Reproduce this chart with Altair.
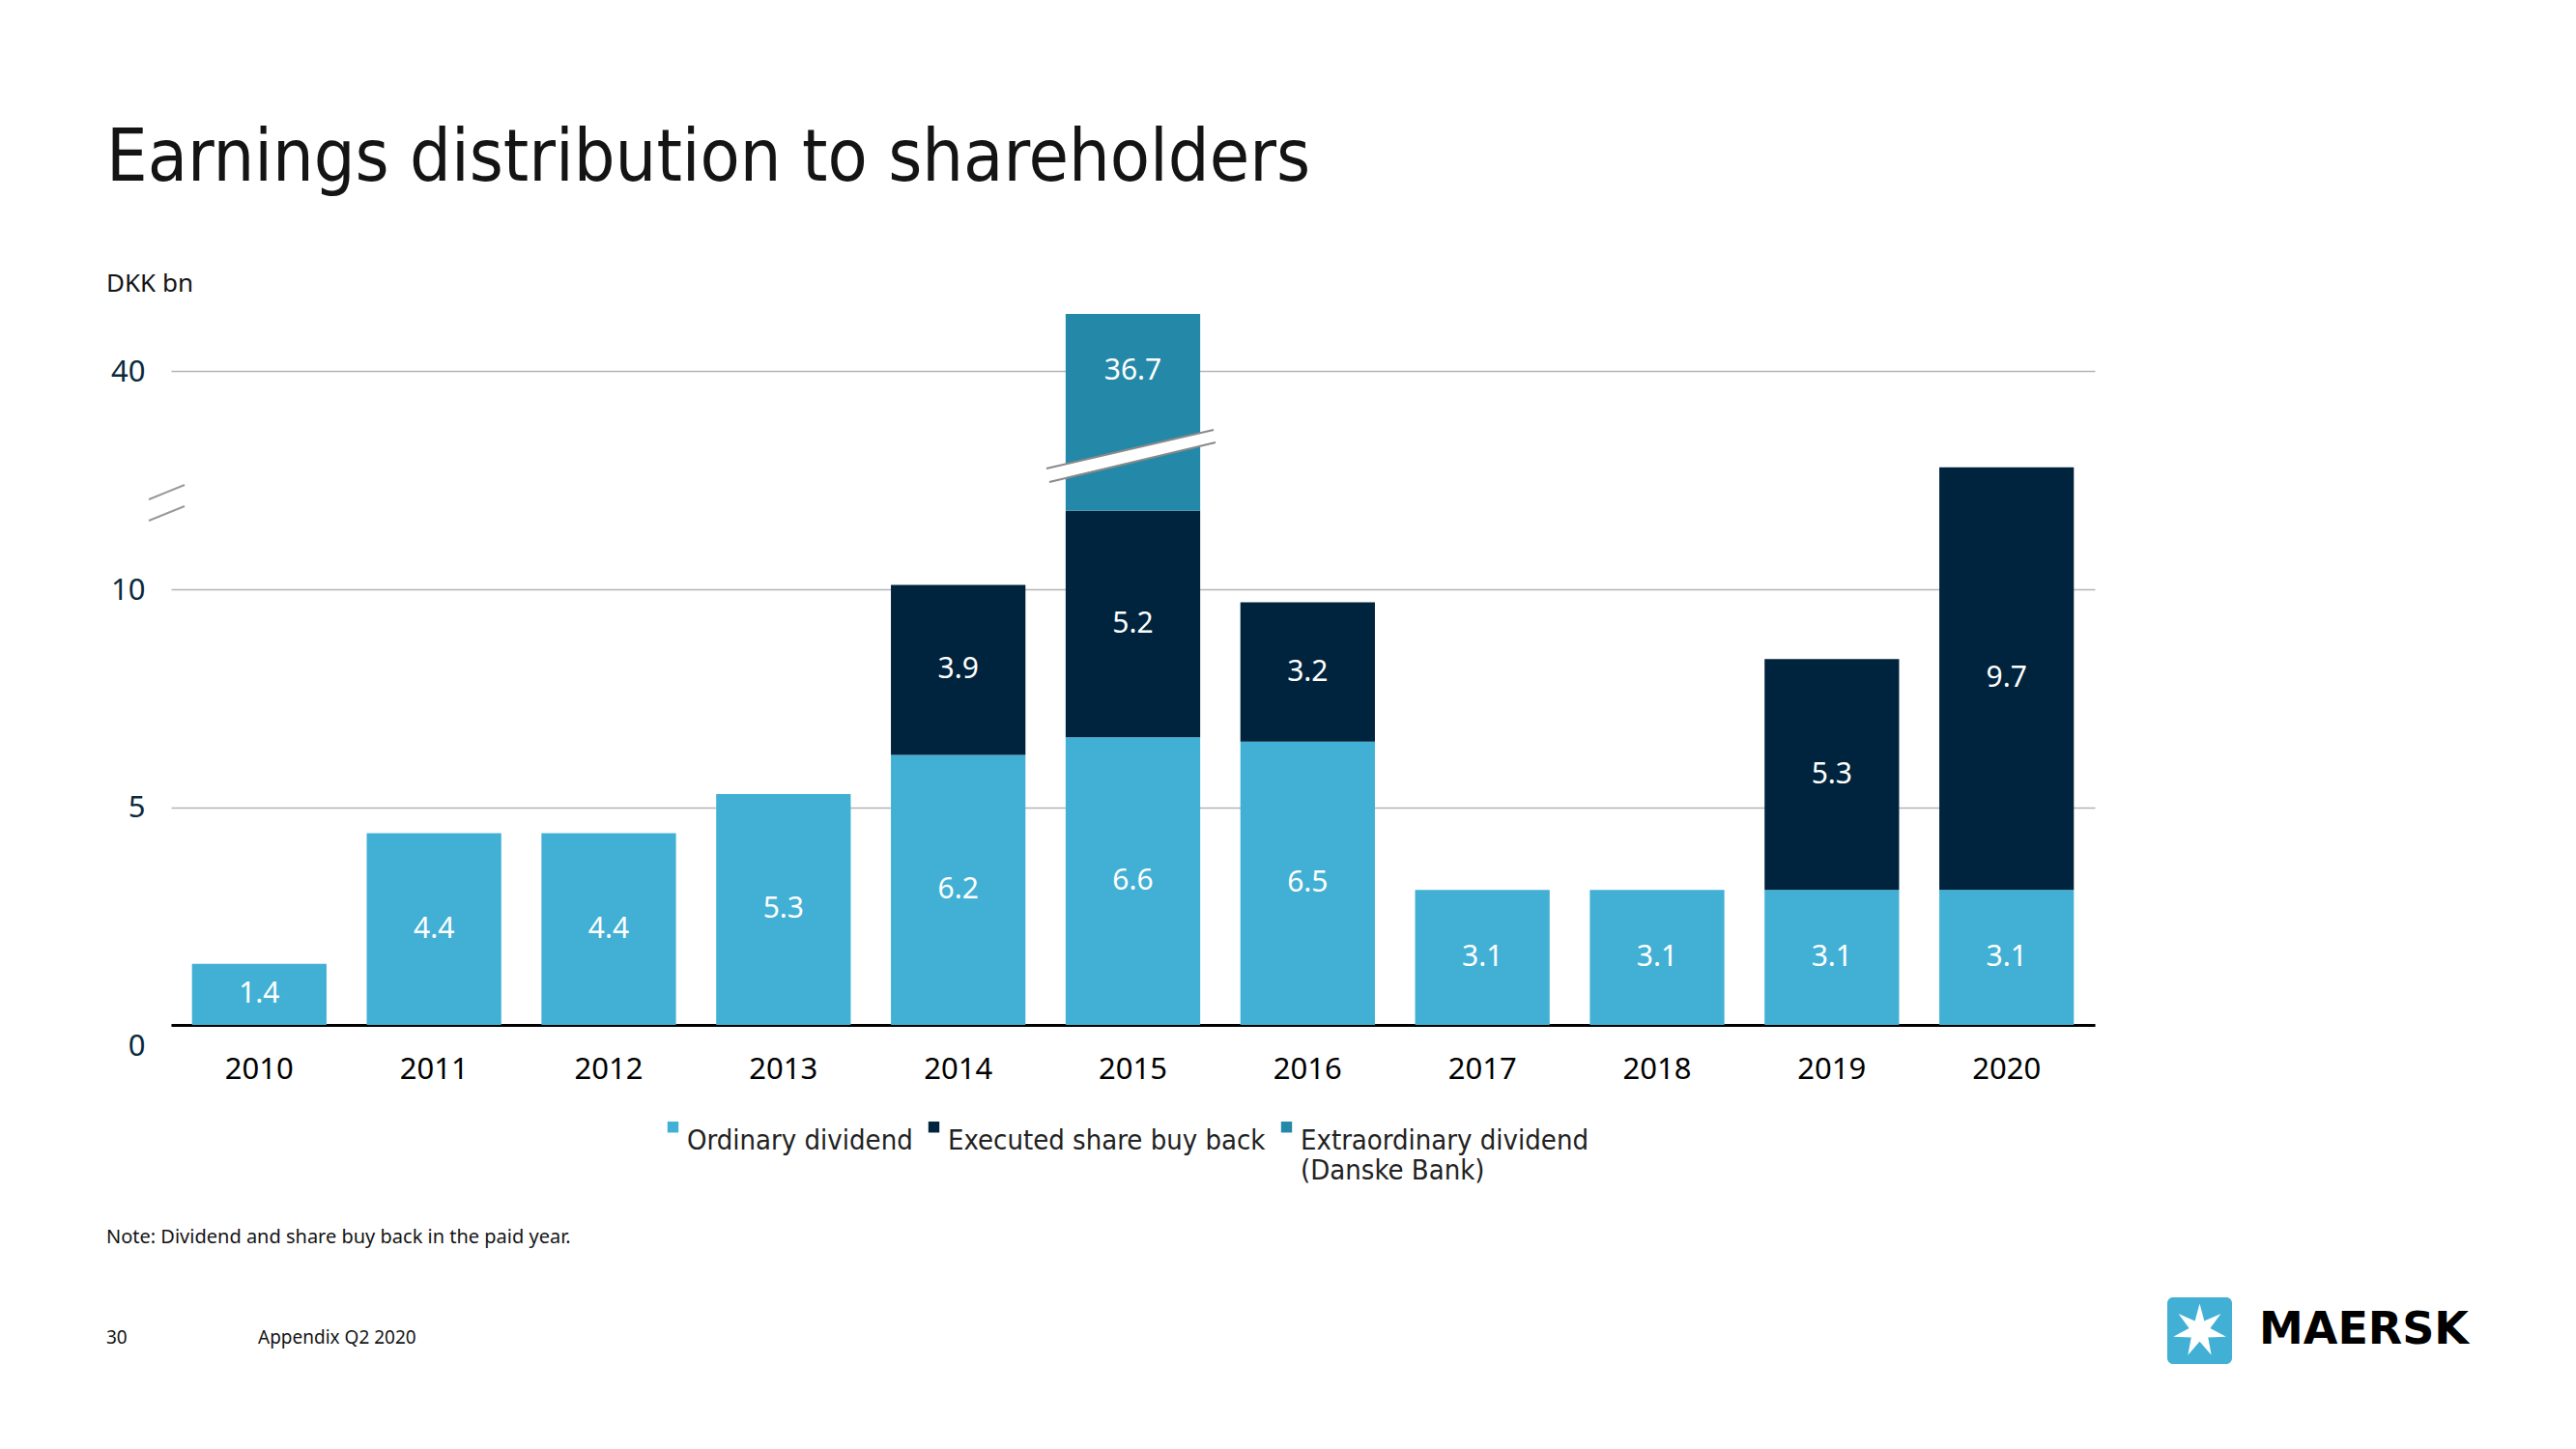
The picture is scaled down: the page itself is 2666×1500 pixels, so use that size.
import math
import altair as alt
import pandas as pd

# ---------------- data ----------------
years = ["2010", "2011", "2012", "2013", "2014", "2015", "2016", "2017", "2018", "2019", "2020"]
ordinary = [1.4, 4.4, 4.4, 5.3, 6.2, 6.6, 6.5, 3.1, 3.1, 3.1, 3.1]
buyback = [0, 0, 0, 0, 3.9, 5.2, 3.2, 0, 0, 5.3, 9.7]
extraordinary = [0, 0, 0, 0, 0, 36.7, 0, 0, 0, 0, 0]
series = ["Ordinary dividend", "Executed share buy back", "Extraordinary dividend (Danske Bank)"]
colors = ["#42B0D5", "#00243D", "#2489A9"]
y_ticks = [0, 5, 10, 40]
y_break_domain = [0, 13, 40, 48.5]   # broken axis: piecewise linear scale

rows = []
for i, yr in enumerate(years):
    base = 0.0
    for s, vals in zip(series, [ordinary, buyback, extraordinary]):
        v = vals[i]
        if v > 0:
            rows.append(dict(year=yr, series=s, value=v, start=base, end=base + v, mid=base + v / 2))
            base += v
df = pd.DataFrame(rows)
# label of the broken segment is placed on the 40 gridline
df.loc[df.series == series[2], "mid"] = 40

# ---------------- layout ----------------
W, H = 1991, 761
K = 45.1  # px per unit in the unbroken part
y_range = [H, H - 13 * K, 84, 25]

TITLE_FONT = "Liberation Sans Narrow, DejaVu Sans Condensed, sans-serif"
BODY_FONT = "Noto Sans"

x_enc = alt.X(
    "year:N",
    sort=years,
    title=None,
    scale=alt.Scale(paddingInner=0.23, paddingOuter=0.12),
    axis=alt.Axis(
        labelAngle=0, labelFontSize=31, labelFont=BODY_FONT, labelColor="#000000",
        labelPadding=31, ticks=False, tickSize=0, domainColor="#000000", domainWidth=3,
        grid=False,
    ),
)

y_scale = alt.Scale(domain=y_break_domain, range=y_range, nice=False, zero=False)

bars = alt.Chart(df).mark_bar().encode(
    x=x_enc,
    y=alt.Y(
        "end:Q",
        scale=y_scale,
        title=None,
        axis=alt.Axis(
            values=y_ticks, grid=True, gridColor="#B5B5B5", gridWidth=1.5,
            domain=False, ticks=False, tickSize=0, labelPadding=27,
            labelFontSize=31, labelFont=BODY_FONT, labelColor="#0B2A3E",
            labelOffset={"condition": {"test": "datum.value === 0", "value": 22}, "value": 1},
        ),
    ),
    y2="start:Q",
    color=alt.Color(
        "series:N",
        scale=alt.Scale(domain=series, range=colors),
        legend=alt.Legend(
            title=None, orient="none", direction="horizontal", legendX=505, legendY=852,
            symbolType="square", symbolSize=130, symbolStrokeWidth=0,
            labelFont=TITLE_FONT, labelFontSize=29, labelColor="#222222",
            labelBaseline="top", labelOffset=0, columnPadding=7, labelLimit=0,
            labelExpr="datum.label == 'Extraordinary dividend (Danske Bank)' ? ['Extraordinary dividend', '(Danske Bank)'] : [datum.label, ' ']",
        ),
    ),
)

labels = alt.Chart(df).mark_text(color="white", fontSize=30, font=BODY_FONT, baseline="middle").encode(
    x=alt.X("year:N", sort=years),
    y=alt.Y("mid:Q", scale=y_scale),
    text=alt.Text("value:Q", format=".1f"),
)


def one():
    return alt.Chart(pd.DataFrame({"t": [""]}))


def seg(x1, y1, x2, y2, color, width):
    return one().mark_rule(color=color, strokeWidth=width, strokeCap="butt").encode(
        x=alt.value(x1), y=alt.value(y1), x2=alt.value(x2), y2=alt.value(y2)
    )


def txt(text, x, y, size, **kw):
    return alt.Chart(pd.DataFrame({"t": [text]})).mark_text(fontSize=size, **kw).encode(
        text="t:N", x=alt.value(x), y=alt.value(y)
    )


# break on the 2015 bar
bar_break = [
    seg(907, 192, 1080, 151.5, "white", 13),
    seg(906, 185, 1079, 145, "#8A8A8A", 2),
    seg(909, 199, 1081, 158, "#8A8A8A", 2),
]
# break marks on the y axis
axis_break = [
    seg(-23, 217, 14, 202, "#999999", 2),
    seg(-23, 239, 14, 224, "#999999", 2),
]

title = txt("Earnings distribution to shareholders", -67, -113, 75, font=TITLE_FONT,
            align="left", baseline="alphabetic", color="#141414", fontWeight=300)
unit = txt("DKK bn", -67, -6, 26, font=BODY_FONT, align="left", baseline="middle", color="#141414")
note = txt("Note: Dividend and share buy back in the paid year.", -67, 981, 20, font=BODY_FONT,
           align="left", baseline="middle", color="#141414")
page = txt("30", -67, 1085, 19, font=BODY_FONT, align="left", baseline="middle", color="#141414")
footer = txt("Appendix Q2 2020", 90, 1085, 19, font=BODY_FONT, align="left", baseline="middle", color="#141414")

# logo
star_pts = []
for i in range(14):
    a = -math.pi / 2 + i * math.pi / 7
    r = 1.0 if i % 2 == 0 else 0.4
    star_pts.append(f"{r * math.cos(a):.4f},{r * math.sin(a):.4f}")
star_path = "M" + " L".join(star_pts) + " Z"

logo_box = one().mark_rect(color="#42B0D5", cornerRadius=6).encode(
    x=alt.value(2066), x2=alt.value(2133), y=alt.value(1043), y2=alt.value(1112)
)
logo_star = one().mark_point(shape=star_path, filled=True, color="white", opacity=1, size=3136, strokeWidth=0).encode(
    x=alt.value(2099.5), y=alt.value(1077.5)
)
logo_text = txt("MAERSK", 2161, 1077, 46, font="DejaVu Sans", fontWeight="bold",
                align="left", baseline="middle", color="#000000")

chart = alt.layer(
    bars, *bar_break, *axis_break, labels, title, unit, note, page, footer,
    logo_box, logo_star, logo_text,
).properties(
    width=W, height=H,
    padding={"left": 177, "top": 300, "right": 498, "bottom": 439},
    autosize=alt.AutoSizeParams(type="none"),
    background="white",
).configure_view(stroke=None)

chart.save("out.html", embed_options={"renderer": "svg", "actions": False})
